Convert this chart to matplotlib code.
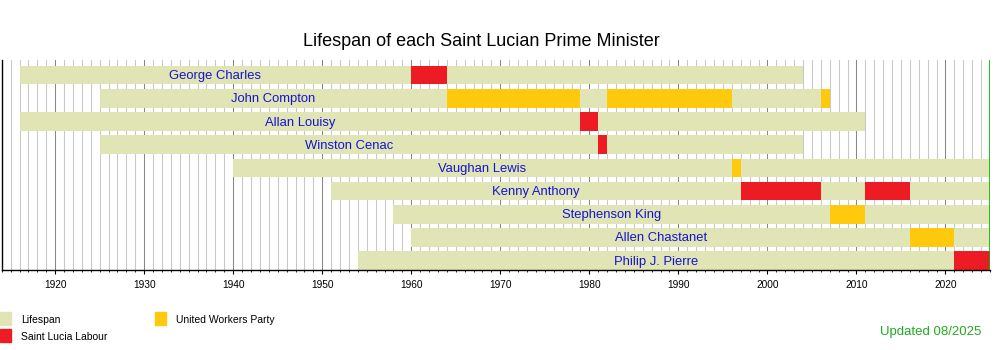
import matplotlib.pyplot as plt
from matplotlib.patches import Rectangle
from matplotlib.ticker import MultipleLocator

plt.rcParams["font.family"] = ["Liberation Sans", "DejaVu Sans"]

# timeline range (living people run to the end)
START, END = 1914, 2025

names = ["George Charles", "John Compton", "Allan Louisy", "Winston Cenac",
         "Vaughan Lewis", "Kenny Anthony", "Stephenson King", "Allen Chastanet",
         "Philip J. Pierre"]
born = [1916, 1925, 1916, 1925, 1940, 1951, 1958, 1960, 1954]
died = [2004, 2007, 2011, 2004, END, END, END, END, END]

# terms in office
term_who = [0, 1, 1, 1, 2, 3, 4, 5, 5, 6, 7, 8]
term_from = [1960, 1964, 1982, 2006, 1979, 1981, 1996, 1997, 2011, 2007, 2016, 2021]
term_till = [1964, 1979, 1996, 2007, 1981, 1982, 1997, 2006, 2016, 2011, 2021, END]
term_party = ["SLP", "UWP", "UWP", "UWP", "SLP", "SLP", "UWP", "SLP", "SLP", "UWP", "UWP", "SLP"]

colors = {"life": "#E1E5B5", "SLP": "#ED1C24", "UWP": "#FFC90E"}
legend_labels = {"life": "Lifespan", "SLP": "Saint Lucia Labour", "UWP": "United Workers Party"}

fig = plt.figure(figsize=(10, 3.5), dpi=100)
ax = fig.add_axes([0.0017, 1 - 270 / 350, 0.9883, 210 / 350])

# year grid behind the bars
for yr in range(START + 1, END):
    major = yr % 10 == 0
    ax.axvline(yr, color="#888888" if major else "#C8C8C8", lw=0.75, zorder=0)
ax.axvline(END, color="#00B400", lw=1.2, zorder=3)

rows = range(len(names))
ax.barh(list(rows), [d - b for b, d in zip(born, died)], left=born,
        height=0.8, color=colors["life"], zorder=1)
ax.barh(term_who, [t - f for f, t in zip(term_from, term_till)], left=term_from,
        height=0.8, color=[colors[p] for p in term_party], zorder=2)

# name centred on the stretch of life before the first term
for i, name in enumerate(names):
    first = min(f for w, f in zip(term_who, term_from) if w == i)
    ax.text((born[i] + first) / 2, i + 0.04, name, ha="center", va="center",
            color="#1414D2", fontsize=9.4, zorder=4)

ax.set_xlim(START, END)
ax.set_ylim(8.4, -0.655)
ax.set_yticks([])
ax.xaxis.set_major_locator(MultipleLocator(10))
ax.xaxis.set_minor_locator(MultipleLocator(1))
ax.tick_params(axis="x", which="major", length=3.2, width=0.8, labelsize=7.3, pad=4)
ax.tick_params(axis="x", which="minor", length=1.7, width=0.6)
for side in ["top", "right"]:
    ax.spines[side].set_visible(False)
ax.spines["left"].set_linewidth(1.0)
ax.spines["bottom"].set_linewidth(1.0)

fig.text(0.481, 1 - 42 / 350, "Lifespan of each Saint Lucian Prime Minister",
         ha="center", va="center", fontsize=13)

# legend boxes along the bottom
legend_items = [("life", 0, 312), ("SLP", 0, 329), ("UWP", 155, 312)]
for key, x0, y0 in legend_items:
    fig.patches.append(Rectangle((x0 / 1000, 1 - (y0 + 12.5) / 350), 11 / 1000, 12.5 / 350,
                                 transform=fig.transFigure, color=colors[key]))
    fig.text((x0 + 21) / 1000, 1 - (y0 + 8) / 350, legend_labels[key],
             ha="left", va="center", fontsize=7.5)

fig.text(0.981, 1 - 331.5 / 350, "Updated 08/2025", ha="right", va="center",
         color="#22AA22", fontsize=9.5)

fig.savefig("out.png", dpi=100)
